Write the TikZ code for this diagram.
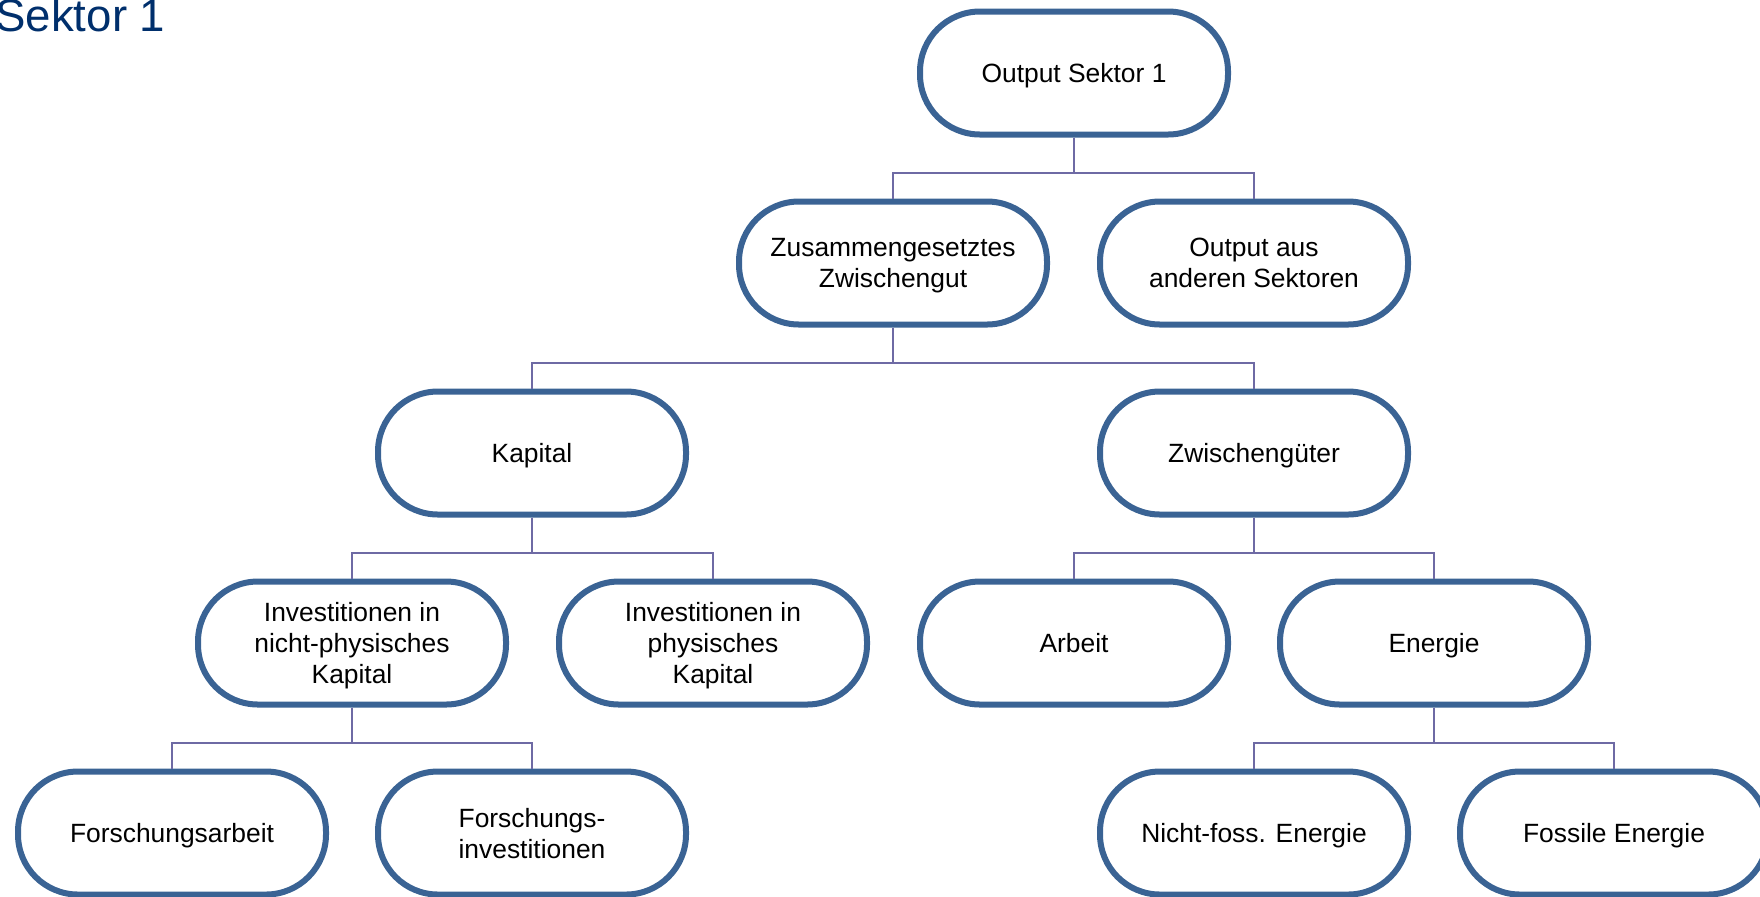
\documentclass[tikz,border=0pt]{standalone}
\usepackage{fontspec}
\setmainfont{Liberation Sans}
\definecolor{boxblue}{RGB}{58,99,148}
\definecolor{linkviolet}{RGB}{110,106,164}
\definecolor{titleblue}{RGB}{0,47,108}
\begin{document}
\begin{tikzpicture}[x=0.5pt,y=-0.5pt,
  box/.style={draw=boxblue,line width=3pt,rounded corners=30pt,minimum width=154pt,minimum height=61.5pt,inner sep=2pt,text depth=0pt,align=center,font=\fontsize{13.2}{15.5}\selectfont},
  link/.style={draw=linkviolet,line width=1pt}]
\useasboundingbox (0,0) rectangle (1760,896);
\node[anchor=base west,inner sep=0pt,text=titleblue,font=\fontsize{22.8}{27}\selectfont] (title) at (-5,31) {Sektor 1};
% top levels
\node[box] (out) at (1074,73) {Output Sektor 1};
\node[box] (zwg) at (893,263) {Zusammengesetztes\\Zwischengut};
\node[box] (oas) at (1254,263) {Output aus\\anderen Sektoren};
\node[box] (kap) at (532,453) {Kapital};
\node[box] (zwi) at (1254,453) {Zwischengüter};
% capital and intermediate inputs
\node[box] (inp) at (352,643) {Investitionen in\\nicht-physisches\\Kapital};
\node[box] (ip) at (713,643) {Investitionen in\\physisches\\Kapital};
\node[box] (arb) at (1074,643) {Arbeit};
\node[box] (ene) at (1434,643) {Energie};
% bottom level
\node[box] (fa) at (172,833) {Forschungsarbeit};
\node[box] (fi) at (532,833) {Forschungs-\\investitionen};
\node[box] (nfe) at (1254,833) {Nicht-foss. Energie};
\node[box] (fe) at (1614,833) {Fossile Energie};
\foreach \p/\c in {out/zwg,out/oas,zwg/kap,zwg/zwi,kap/inp,kap/ip,zwi/arb,zwi/ene,inp/fa,inp/fi,ene/nfe,ene/fe}
  \draw[link] (\p.south) -- ++(0,35) -| (\c.north);
\end{tikzpicture}
\end{document}
